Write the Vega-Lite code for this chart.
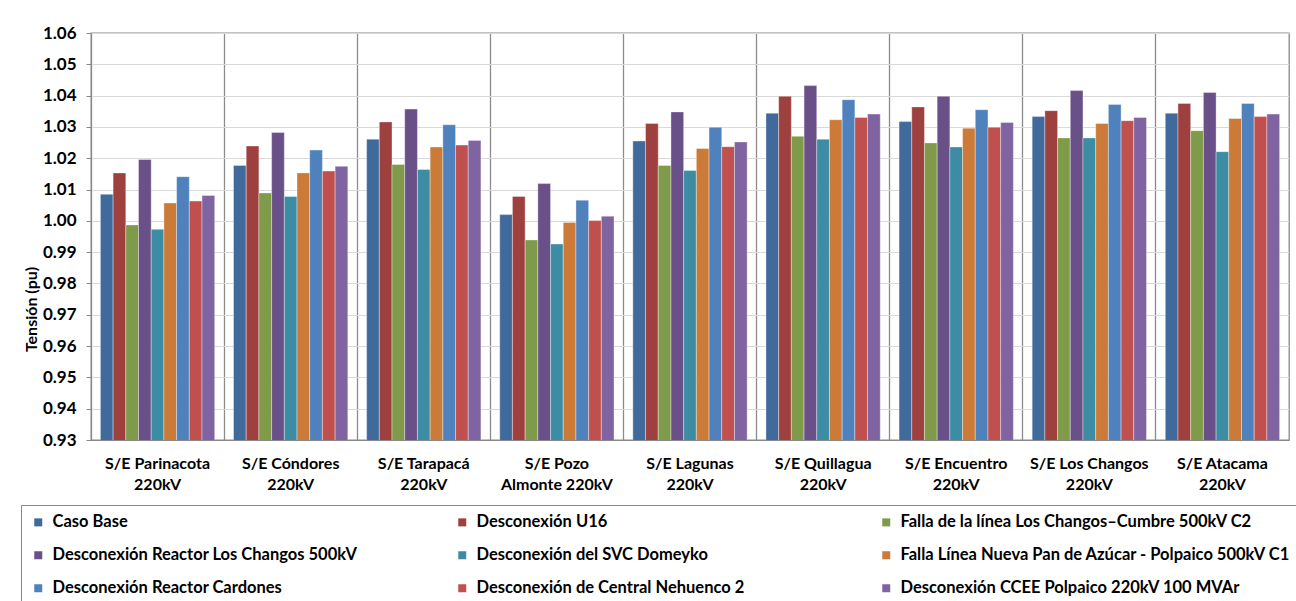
{
  "$schema": "https://vega.github.io/schema/vega-lite/v6.json",
  "autosize": {"type": "none"},
  "width": 1198,
  "height": 407,
  "padding": {"left": 91, "top": 33, "right": 7, "bottom": 161},
  "background": "#ffffff",
  "datasets": {
    "rows": [
      {"s": "S/E Parinacota|220kV", "e": "Caso Base", "v": 1.0085},
      {"s": "S/E Parinacota|220kV", "e": "Desconexión U16", "v": 1.0153},
      {"s": "S/E Parinacota|220kV", "e": "Falla de la línea Los Changos–Cumbre 500kV C2", "v": 0.9987},
      {"s": "S/E Parinacota|220kV", "e": "Desconexión Reactor Los Changos 500kV", "v": 1.0196},
      {"s": "S/E Parinacota|220kV", "e": "Desconexión del SVC Domeyko", "v": 0.9973},
      {"s": "S/E Parinacota|220kV", "e": "Falla Línea Nueva Pan de Azúcar - Polpaico 500kV C1", "v": 1.0057},
      {"s": "S/E Parinacota|220kV", "e": "Desconexión Reactor Cardones", "v": 1.0141},
      {"s": "S/E Parinacota|220kV", "e": "Desconexión de Central Nehuenco 2", "v": 1.0063},
      {"s": "S/E Parinacota|220kV", "e": "Desconexión CCEE Polpaico 220kV 100 MVAr", "v": 1.0081},

      {"s": "S/E Cóndores|220kV", "e": "Caso Base", "v": 1.0177},
      {"s": "S/E Cóndores|220kV", "e": "Desconexión U16", "v": 1.0239},
      {"s": "S/E Cóndores|220kV", "e": "Falla de la línea Los Changos–Cumbre 500kV C2", "v": 1.0089},
      {"s": "S/E Cóndores|220kV", "e": "Desconexión Reactor Los Changos 500kV", "v": 1.0282},
      {"s": "S/E Cóndores|220kV", "e": "Desconexión del SVC Domeyko", "v": 1.0078},
      {"s": "S/E Cóndores|220kV", "e": "Falla Línea Nueva Pan de Azúcar - Polpaico 500kV C1", "v": 1.0153},
      {"s": "S/E Cóndores|220kV", "e": "Desconexión Reactor Cardones", "v": 1.0226},
      {"s": "S/E Cóndores|220kV", "e": "Desconexión de Central Nehuenco 2", "v": 1.0159},
      {"s": "S/E Cóndores|220kV", "e": "Desconexión CCEE Polpaico 220kV 100 MVAr", "v": 1.0174},

      {"s": "S/E Tarapacá|220kV", "e": "Caso Base", "v": 1.0261},
      {"s": "S/E Tarapacá|220kV", "e": "Desconexión U16", "v": 1.0316},
      {"s": "S/E Tarapacá|220kV", "e": "Falla de la línea Los Changos–Cumbre 500kV C2", "v": 1.0180},
      {"s": "S/E Tarapacá|220kV", "e": "Desconexión Reactor Los Changos 500kV", "v": 1.0357},
      {"s": "S/E Tarapacá|220kV", "e": "Desconexión del SVC Domeyko", "v": 1.0164},
      {"s": "S/E Tarapacá|220kV", "e": "Falla Línea Nueva Pan de Azúcar - Polpaico 500kV C1", "v": 1.0236},
      {"s": "S/E Tarapacá|220kV", "e": "Desconexión Reactor Cardones", "v": 1.0307},
      {"s": "S/E Tarapacá|220kV", "e": "Desconexión de Central Nehuenco 2", "v": 1.0242},
      {"s": "S/E Tarapacá|220kV", "e": "Desconexión CCEE Polpaico 220kV 100 MVAr", "v": 1.0257},

      {"s": "S/E Pozo|Almonte 220kV", "e": "Caso Base", "v": 1.0020},
      {"s": "S/E Pozo|Almonte 220kV", "e": "Desconexión U16", "v": 1.0078},
      {"s": "S/E Pozo|Almonte 220kV", "e": "Falla de la línea Los Changos–Cumbre 500kV C2", "v": 0.9939},
      {"s": "S/E Pozo|Almonte 220kV", "e": "Desconexión Reactor Los Changos 500kV", "v": 1.0119},
      {"s": "S/E Pozo|Almonte 220kV", "e": "Desconexión del SVC Domeyko", "v": 0.9926},
      {"s": "S/E Pozo|Almonte 220kV", "e": "Falla Línea Nueva Pan de Azúcar - Polpaico 500kV C1", "v": 0.9995},
      {"s": "S/E Pozo|Almonte 220kV", "e": "Desconexión Reactor Cardones", "v": 1.0066},
      {"s": "S/E Pozo|Almonte 220kV", "e": "Desconexión de Central Nehuenco 2", "v": 1.0001},
      {"s": "S/E Pozo|Almonte 220kV", "e": "Desconexión CCEE Polpaico 220kV 100 MVAr", "v": 1.0015},

      {"s": "S/E Lagunas|220kV", "e": "Caso Base", "v": 1.0255},
      {"s": "S/E Lagunas|220kV", "e": "Desconexión U16", "v": 1.0311},
      {"s": "S/E Lagunas|220kV", "e": "Falla de la línea Los Changos–Cumbre 500kV C2", "v": 1.0177},
      {"s": "S/E Lagunas|220kV", "e": "Desconexión Reactor Los Changos 500kV", "v": 1.0348},
      {"s": "S/E Lagunas|220kV", "e": "Desconexión del SVC Domeyko", "v": 1.0161},
      {"s": "S/E Lagunas|220kV", "e": "Falla Línea Nueva Pan de Azúcar - Polpaico 500kV C1", "v": 1.0231},
      {"s": "S/E Lagunas|220kV", "e": "Desconexión Reactor Cardones", "v": 1.0299},
      {"s": "S/E Lagunas|220kV", "e": "Desconexión de Central Nehuenco 2", "v": 1.0237},
      {"s": "S/E Lagunas|220kV", "e": "Desconexión CCEE Polpaico 220kV 100 MVAr", "v": 1.0252},

      {"s": "S/E Quillagua|220kV", "e": "Caso Base", "v": 1.0344},
      {"s": "S/E Quillagua|220kV", "e": "Desconexión U16", "v": 1.0398},
      {"s": "S/E Quillagua|220kV", "e": "Falla de la línea Los Changos–Cumbre 500kV C2", "v": 1.0270},
      {"s": "S/E Quillagua|220kV", "e": "Desconexión Reactor Los Changos 500kV", "v": 1.0432},
      {"s": "S/E Quillagua|220kV", "e": "Desconexión del SVC Domeyko", "v": 1.0261},
      {"s": "S/E Quillagua|220kV", "e": "Falla Línea Nueva Pan de Azúcar - Polpaico 500kV C1", "v": 1.0323},
      {"s": "S/E Quillagua|220kV", "e": "Desconexión Reactor Cardones", "v": 1.0387},
      {"s": "S/E Quillagua|220kV", "e": "Desconexión de Central Nehuenco 2", "v": 1.0330},
      {"s": "S/E Quillagua|220kV", "e": "Desconexión CCEE Polpaico 220kV 100 MVAr", "v": 1.0341},

      {"s": "S/E Encuentro|220kV", "e": "Caso Base", "v": 1.0317},
      {"s": "S/E Encuentro|220kV", "e": "Desconexión U16", "v": 1.0364},
      {"s": "S/E Encuentro|220kV", "e": "Falla de la línea Los Changos–Cumbre 500kV C2", "v": 1.0249},
      {"s": "S/E Encuentro|220kV", "e": "Desconexión Reactor Los Changos 500kV", "v": 1.0398},
      {"s": "S/E Encuentro|220kV", "e": "Desconexión del SVC Domeyko", "v": 1.0236},
      {"s": "S/E Encuentro|220kV", "e": "Falla Línea Nueva Pan de Azúcar - Polpaico 500kV C1", "v": 1.0296},
      {"s": "S/E Encuentro|220kV", "e": "Desconexión Reactor Cardones", "v": 1.0355},
      {"s": "S/E Encuentro|220kV", "e": "Desconexión de Central Nehuenco 2", "v": 1.0299},
      {"s": "S/E Encuentro|220kV", "e": "Desconexión CCEE Polpaico 220kV 100 MVAr", "v": 1.0314},

      {"s": "S/E Los Changos|220kV", "e": "Caso Base", "v": 1.0333},
      {"s": "S/E Los Changos|220kV", "e": "Desconexión U16", "v": 1.0352},
      {"s": "S/E Los Changos|220kV", "e": "Falla de la línea Los Changos–Cumbre 500kV C2", "v": 1.0265},
      {"s": "S/E Los Changos|220kV", "e": "Desconexión Reactor Los Changos 500kV", "v": 1.0416},
      {"s": "S/E Los Changos|220kV", "e": "Desconexión del SVC Domeyko", "v": 1.0265},
      {"s": "S/E Los Changos|220kV", "e": "Falla Línea Nueva Pan de Azúcar - Polpaico 500kV C1", "v": 1.0311},
      {"s": "S/E Los Changos|220kV", "e": "Desconexión Reactor Cardones", "v": 1.0372},
      {"s": "S/E Los Changos|220kV", "e": "Desconexión de Central Nehuenco 2", "v": 1.0320},
      {"s": "S/E Los Changos|220kV", "e": "Desconexión CCEE Polpaico 220kV 100 MVAr", "v": 1.0330},

      {"s": "S/E Atacama|220kV", "e": "Caso Base", "v": 1.0344},
      {"s": "S/E Atacama|220kV", "e": "Desconexión U16", "v": 1.0375},
      {"s": "S/E Atacama|220kV", "e": "Falla de la línea Los Changos–Cumbre 500kV C2", "v": 1.0288},
      {"s": "S/E Atacama|220kV", "e": "Desconexión Reactor Los Changos 500kV", "v": 1.0410},
      {"s": "S/E Atacama|220kV", "e": "Desconexión del SVC Domeyko", "v": 1.0221},
      {"s": "S/E Atacama|220kV", "e": "Falla Línea Nueva Pan de Azúcar - Polpaico 500kV C1", "v": 1.0327},
      {"s": "S/E Atacama|220kV", "e": "Desconexión Reactor Cardones", "v": 1.0375},
      {"s": "S/E Atacama|220kV", "e": "Desconexión de Central Nehuenco 2", "v": 1.0333},
      {"s": "S/E Atacama|220kV", "e": "Desconexión CCEE Polpaico 220kV 100 MVAr", "v": 1.0341}
    ]
  },
  "data": {"name": "rows"},
  "mark": {"type": "bar", "clip": true, "stroke": "#ffffff", "strokeOpacity": 0.45, "strokeWidth": 0.8},
  "encoding": {
    "x": {
      "field": "s",
      "type": "nominal",
      "sort": null,
      "scale": {"paddingInner": 0, "paddingOuter": 0},
      "axis": {
        "title": null,
        "labelAngle": 0,
        "labelExpr": "split(datum.label, '|')",
        "labelFont": "Lato",
        "labelFontSize": 16,
        "labelFontWeight": "bold",
        "labelColor": "#000000",
        "labelLineHeight": 21,
        "labelPadding": 15,
        "labelLimit": 0,
        "ticks": false,
        "domain": true,
        "domainColor": "#888888",
        "domainWidth": 1,
        "grid": true,
        "bandPosition": 0,
        "gridColor": "#8c8c8c",
        "gridWidth": 1.3
      }
    },
    "xOffset": {
      "field": "e",
      "type": "nominal",
      "sort": null,
      "scale": {"paddingInner": 0, "paddingOuter": 0.74}
    },
    "y": {
      "field": "v",
      "type": "quantitative",
      "scale": {"domain": [0.93, 1.06], "zero": false, "nice": false},
      "axis": {
        "title": "Tensión (pu)",
        "titleFont": "Lato",
        "titleFontSize": 16,
        "titleFontWeight": "bold",
        "titleColor": "#000000",
        "titleX": -60,
        "titleY": 276,
        "titleAngle": -90,
        "titleAlign": "center",
        "titleBaseline": "middle",
        "values": [0.93, 0.94, 0.95, 0.96, 0.97, 0.98, 0.99, 1.0, 1.01, 1.02, 1.03, 1.04, 1.05, 1.06],
        "format": ".2f",
        "labelFont": "Lato",
        "labelFontSize": 17,
        "labelFontWeight": "bold",
        "labelColor": "#000000",
        "labelPadding": 10,
        "tickSize": 5,
        "tickColor": "#888888",
        "domainColor": "#888888",
        "grid": true,
        "gridColor": "#d9d9d9",
        "gridWidth": 1
      }
    },
    "color": {
      "field": "e",
      "type": "nominal",
      "sort": null,
      "scale": {
        "domain": [
          "Caso Base",
          "Desconexión U16",
          "Falla de la línea Los Changos–Cumbre 500kV C2",
          "Desconexión Reactor Los Changos 500kV",
          "Desconexión del SVC Domeyko",
          "Falla Línea Nueva Pan de Azúcar - Polpaico 500kV C1",
          "Desconexión Reactor Cardones",
          "Desconexión de Central Nehuenco 2",
          "Desconexión CCEE Polpaico 220kV 100 MVAr"
        ],
        "range": ["#406A9C", "#9E413E", "#7F9A48", "#6A5088", "#3C8CA4", "#CB7A37", "#4F81BD", "#C0504D", "#8064A2"]
      },
      "legend": {
        "title": null,
        "orient": "none",
        "legendX": -70,
        "legendY": 472,
        "direction": "horizontal",
        "columns": 3,
        "gridAlign": "all",
        "columnPadding": 11,
        "rowPadding": 16,
        "padding": 9,
        "strokeColor": "#888888",
        "symbolType": "square",
        "symbolSize": 64,
        "symbolStrokeWidth": 0,
        "labelFont": "Lato",
        "labelFontSize": 16.5,
        "labelFontWeight": "bold",
        "labelColor": "#000000",
        "labelLimit": 0,
        "labelOffset": 6
      }
    }
  },
  "config": {
    "view": {"stroke": "#888888", "strokeWidth": 1.3}
  }
}
